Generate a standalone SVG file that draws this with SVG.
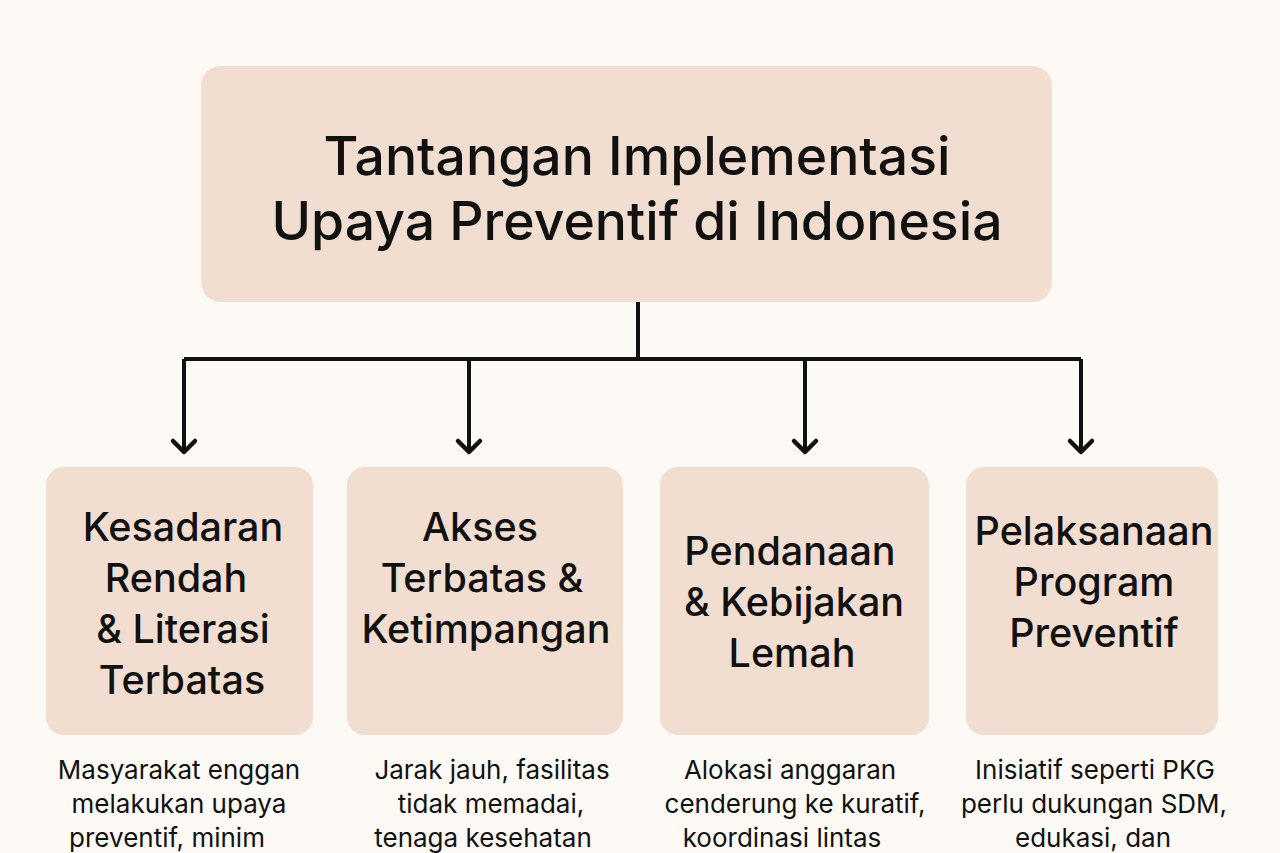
<svg xmlns="http://www.w3.org/2000/svg" width="1280" height="853" viewBox="0 0 1280 853">
<defs>
<style>
.box{fill:#F2DED1;}
.t{font-family:Inter,"Liberation Sans",sans-serif;fill:#111;text-anchor:middle;}
.title{font-size:53.5px;font-weight:500;}
.lbl{font-size:39.5px;font-weight:500;}
.desc{font-size:26px;font-weight:400;}
.ln{stroke:#111;stroke-width:4;fill:none;}
</style>
<marker id="arr" viewBox="0 0 30 30" refX="22" refY="15" markerWidth="30" markerHeight="30" markerUnits="userSpaceOnUse" orient="auto">
<path d="M11 4 L22 15 L11 26" fill="none" stroke="#111" stroke-width="4.5" stroke-linecap="round" stroke-linejoin="round"/>
</marker>
</defs>
<rect width="1280" height="853" fill="#FDFAF5"/>
<g id="root">
<rect class="box" x="201" y="66" width="851" height="236" rx="20"/>
<text class="t title" x="637" y="175">Tantangan Implementasi</text>
<text class="t title" x="637" y="240">Upaya Preventif di Indonesia</text>
</g>
<g id="connectors">
<path class="ln" d="M638 302 V359 M184 359 H1081"/>
<path class="ln" d="M184 359 V452" marker-end="url(#arr)"/>
<path class="ln" d="M469 359 V452" marker-end="url(#arr)"/>
<path class="ln" d="M805 359 V452" marker-end="url(#arr)"/>
<path class="ln" d="M1081 359 V452" marker-end="url(#arr)"/>
</g>
<g id="n1">
<rect class="box" x="46" y="467" width="267" height="268" rx="18"/>
<text class="t lbl" x="183" y="541">Kesadaran</text>
<text class="t lbl" x="176" y="592">Rendah</text>
<text class="t lbl" x="183" y="643">&amp; Literasi</text>
<text class="t lbl" x="182" y="694">Terbatas</text>
<text class="t desc" x="179" y="779">Masyarakat enggan</text>
<text class="t desc" x="179" y="813">melakukan upaya</text>
<text class="t desc" x="167" y="847">preventif, minim</text>
</g>
<g id="n2">
<rect class="box" x="347" y="467" width="276" height="268" rx="18"/>
<text class="t lbl" x="480" y="541">Akses</text>
<text class="t lbl" x="482" y="592">Terbatas &amp;</text>
<text class="t lbl" x="486" y="643">Ketimpangan</text>
<text class="t desc" x="492" y="779">Jarak jauh, fasilitas</text>
<text class="t desc" x="491" y="813">tidak memadai,</text>
<text class="t desc" x="483" y="847">tenaga kesehatan</text>
</g>
<g id="n3">
<rect class="box" x="660" y="467" width="269" height="268" rx="18"/>
<text class="t lbl" x="790" y="565">Pendanaan</text>
<text class="t lbl" x="794" y="616">&amp; Kebijakan</text>
<text class="t lbl" x="792" y="667">Lemah</text>
<text class="t desc" x="790" y="779">Alokasi anggaran</text>
<text class="t desc" x="795" y="813">cenderung ke kuratif,</text>
<text class="t desc" x="782" y="847">koordinasi lintas</text>
</g>
<g id="n4">
<rect class="box" x="966" y="467" width="252" height="268" rx="18"/>
<text class="t lbl" x="1094" y="545">Pelaksanaan</text>
<text class="t lbl" x="1094" y="596">Program</text>
<text class="t lbl" x="1094" y="647">Preventif</text>
<text class="t desc" x="1095" y="779">Inisiatif seperti PKG</text>
<text class="t desc" x="1094" y="813">perlu dukungan SDM,</text>
<text class="t desc" x="1093" y="847">edukasi, dan</text>
</g>
</svg>
